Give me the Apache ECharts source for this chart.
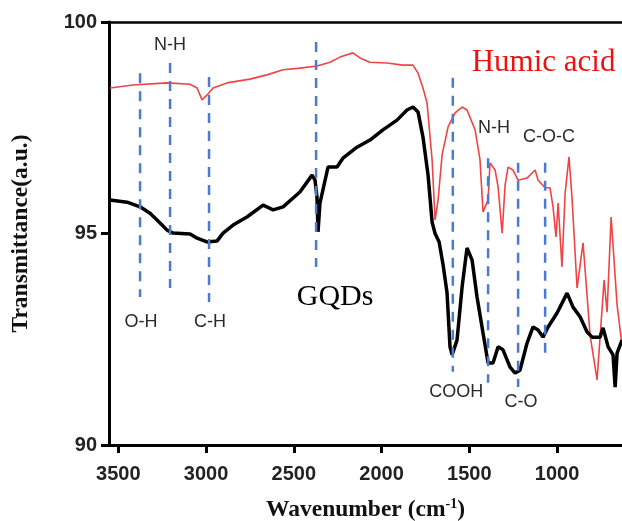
<!DOCTYPE html>
<html>
<head>
<meta charset="utf-8">
<script src="https://cdn.jsdelivr.net/npm/echarts@6/dist/echarts.min.js"></script>
<style>html,body{margin:0;padding:0;background:#fff;}#c{width:622px;height:521px;}</style>
</head>
<body>
<div id="c"></div>
<script>
var xTicks = [3500, 3000, 2500, 2000, 1500, 1000];
var yTicks = [90, 95, 100];

var gqdsWave = [3547,3450,3376,3319,3262,3222,3188,3091,3051,2995,2938,2903,2846,2767,2675,2618,2561,2504,2465,2396,2379,2368,2362,2351,2305,2254,2220,2140,2066,1992,1912,1855,1821,1792,1764,1735,1712,1695,1672,1649,1627,1610,1598,1570,1541,1513,1484,1456,1422,1393,1365,1336,1308,1268,1239,1211,1171,1137,1108,1080,1051,1000,943,909,869,829,800,755,738,709,681,669,658,630];
var gqdsT = [95.79,95.74,95.63,95.48,95.25,95.08,95.01,94.99,94.89,94.80,94.82,95.01,95.20,95.39,95.67,95.56,95.63,95.84,95.98,96.38,96.26,95.86,95.04,95.72,96.57,96.57,96.78,97.04,97.21,97.45,97.68,97.92,97.99,97.87,97.28,96.38,95.27,95.00,94.80,94.25,93.60,92.32,92.13,92.48,93.74,94.66,94.37,93.50,92.65,91.94,91.94,92.32,92.25,91.84,91.70,91.77,92.41,92.79,92.72,92.55,92.79,93.12,93.59,93.26,93.03,92.67,92.55,92.55,92.77,92.32,92.13,91.37,92.17,92.48];

var humicWave = [3547,3416,3222,3091,3051,3023,2995,2960,2881,2750,2653,2561,2465,2368,2294,2237,2163,2123,2066,1969,1878,1821,1792,1764,1741,1712,1695,1678,1655,1621,1581,1541,1513,1467,1439,1422,1393,1382,1353,1336,1313,1296,1279,1251,1222,1171,1125,1108,1068,1040,1023,1006,994,972,954,932,915,886,852,812,772,732,715,692,658,630];
var humicT = [98.44,98.51,98.56,98.53,98.44,98.16,98.27,98.44,98.56,98.65,98.75,98.87,98.91,98.96,99.05,99.17,99.27,99.15,99.05,99.03,98.98,98.98,98.79,98.44,98.09,96.74,95.32,95.79,96.86,97.52,97.85,97.99,97.92,97.45,96.74,95.51,95.79,96.67,96.50,96.10,95.01,96.15,96.57,96.50,96.26,96.31,96.50,96.26,96.08,96.08,95.63,94.92,95.72,94.21,95.96,96.81,95.86,93.71,94.78,92.60,91.54,93.90,93.14,95.39,93.31,92.36];

var peakWave = [3376,3205,2983,2373,1594,1393,1222,1068];
var peakTop = [98.79,99.03,98.70,99.53,98.68,96.78,96.67,96.67];
var peakBottom = [93.50,93.71,93.38,94.21,91.73,91.47,91.37,92.17];

var annoText = ['N-H','O-H','C-H','GQDs','Humic acid','N-H','C-O-C','COOH','C-O'];
var annoWave = [3205,3371,2977,2265,1077,1359,1046,1575,1205];
var annoValue = [99.46,92.91,92.91,93.50,99.03,97.49,97.28,91.25,91.02];

function zip(a, b) { return a.map(function (v, i) { return [v, b[i]]; }); }

var series = [];
series.push({
  type: 'line', data: zip(humicWave, humicT), symbol: 'none', silent: true,
  lineStyle: { color: '#f04444', width: 1.6 }, z: 3
});
series.push({
  type: 'line', data: zip(gqdsWave, gqdsT), symbol: 'none', silent: true,
  lineStyle: { color: '#000', width: 3.5 }, z: 4
});
peakWave.forEach(function (w, i) {
  series.push({
    type: 'line', data: [[w, peakTop[i]], [w, peakBottom[i]]], symbol: 'none', silent: true,
    lineStyle: { color: '#4a7bd0', width: 2.5, type: [10, 8] }, z: 5
  });
});

var annoData = annoText.map(function (t, i) {
  var lab;
  if (t === 'Humic acid') {
    lab = { fontFamily: 'Liberation Serif', fontSize: 31, color: '#ee1111' };
  } else if (t === 'GQDs') {
    lab = { fontFamily: 'Liberation Serif', fontSize: 30, color: '#000' };
  } else {
    lab = { fontFamily: 'Liberation Sans', fontSize: 18, color: '#2a2a2a' };
  }
  lab.show = true; lab.position = 'inside'; lab.formatter = t;
  lab.textBorderWidth = 0; lab.textShadowBlur = 0; lab.opacity = 1;
  return { value: [annoWave[i], annoValue[i]], label: lab };
});
series.push({
  type: 'scatter', data: annoData, symbolSize: 2, silent: true, z: 6,
  itemStyle: { color: '#fff', opacity: 0 }
});

var chart = echarts.init(document.getElementById('c'), null, { renderer: 'canvas' });
chart.setOption({
  animation: false,
  backgroundColor: '#fff',
  grid: { left: 109, top: 22, right: 0, bottom: 76, containLabel: false, outerBoundsMode: 'none' },
  xAxis: [{
    type: 'value', inverse: true, min: 630, max: 3553,
    name: 'Wavenumber (cm{sup|-1})', nameLocation: 'middle', nameGap: 52,
    nameTextStyle: {
      fontFamily: 'Liberation Serif', fontWeight: 'bold', fontSize: 23.5, color: '#111',
      rich: { sup: { fontFamily: 'Liberation Serif', fontWeight: 'bold', fontSize: 14, color: '#111', padding: [0, 0, 12, 0] } }
    },
    axisLine: { onZero: false, lineStyle: { color: '#000', width: 3 } },
    axisTick: { show: true, length: 8, lineStyle: { color: '#000', width: 3 }, customValues: xTicks },
    axisLabel: { customValues: xTicks, formatter: function (v) { return String(v); }, fontFamily: 'Liberation Sans', fontWeight: 'bold', fontSize: 20, color: '#222', margin: 19 },
    splitLine: { show: false }
  }, {
    type: 'value', position: 'top', inverse: true, min: 630, max: 3553,
    axisLine: { show: true, onZero: false, lineStyle: { color: '#000', width: 2.5 } },
    axisTick: { show: false }, axisLabel: { show: false }, splitLine: { show: false }
  }],
  yAxis: {
    type: 'value', min: 90, max: 100, interval: 5,
    name: 'Transmittance(a.u.)', nameLocation: 'middle', nameGap: 76, nameRotate: 90,
    nameTextStyle: { fontFamily: 'Liberation Serif', fontWeight: 'bold', fontSize: 23.5, color: '#111' },
    axisLine: { show: true, onZero: false, lineStyle: { color: '#000', width: 3 } },
    axisTick: { show: true, length: 8, lineStyle: { color: '#000', width: 3 } },
    axisLabel: { formatter: function (v) { return String(v); }, fontFamily: 'Liberation Sans', fontWeight: 'bold', fontSize: 20, color: '#222', margin: 12 },
    splitLine: { show: false }
  },
  series: series
});
</script>
</body>
</html>
